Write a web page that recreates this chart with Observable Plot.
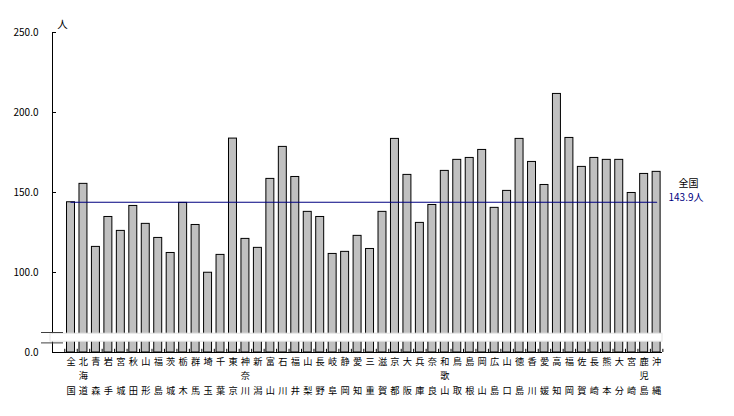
<!DOCTYPE html>
<html>
<head>
<meta charset="utf-8">
<script src="https://cdn.jsdelivr.net/npm/d3@7"></script>
<script src="https://cdn.jsdelivr.net/npm/@observablehq/plot@0.6"></script>
<style>
  body { margin: 0; background: #fff; }
</style>
</head>
<body>
<div id="chart"></div>
<script>
const categories = ["全国","北海道","青森","岩手","宮城","秋田","山形","福島","茨城","栃木","群馬","埼玉","千葉","東京","神奈川","新潟","富山","石川","福井","山梨","長野","岐阜","静岡","愛知","三重","滋賀","京都","大阪","兵庫","奈良","和歌山","鳥取","島根","岡山","広島","山口","徳島","香川","愛媛","高知","福岡","佐賀","長崎","熊本","大分","宮崎","鹿児島","沖縄"];
const values = [143.9,155.4,116.0,134.7,126.0,141.6,130.4,121.6,112.2,143.5,129.7,99.7,111.0,183.7,121.0,115.4,158.5,178.5,159.7,137.9,134.7,111.6,112.9,122.9,114.7,137.9,183.5,161.0,131.0,142.2,163.5,170.4,171.6,176.6,140.4,151.0,183.5,169.1,154.7,211.6,184.1,166.0,171.6,170.4,170.4,149.7,161.6,162.9];
const nationalValue = 143.9;
const nationalLabel = "全国";
const unitLabel = "人";
const yTicks = [0, 100, 150, 200, 250];
const breakRange = [13.5, 23.5];
const breakMarks = [12, 25];

const data = categories.map((name, i) => ({name, value: values[i]}));
const fmt = d3.format(".1f");
// broken axis: 0–100 compressed to half scale
const brokenAxis = v => (v >= 100 ? v : 50 + v / 2);

const chart = Plot.plot({
  width: 734,
  height: 416,
  marginLeft: 52,
  marginRight: 72,
  marginTop: 32,
  marginBottom: 64,
  style: {fontFamily: "'Noto Sans CJK JP', 'Liberation Sans', sans-serif", fontSize: "10px", color: "black"},
  x: {domain: categories, range: [64.27, 662.35], paddingInner: 0.36, paddingOuter: 0.18, round: false, axis: null},
  y: {transform: brokenAxis, domain: [50, 250], axis: null},
  marks: [
    Plot.frame({anchor: "left", stroke: "black"}),
    Plot.ruleY([100, 150, 200, 250], {stroke: "black", insetRight: 606}),
    Plot.text(yTicks, {y: d => d, text: d => fmt(d), frameAnchor: "left", dx: -14, textAnchor: "end", fontSize: 10}),
    Plot.barY(data, {x: "name", y: "value", fill: "#c0c0c0", stroke: "black", strokeWidth: 1}),
    Plot.rect([breakRange], {y1: d => d[0], y2: d => d[1], fill: "white", stroke: "#e4e4e4", insetLeft: -2}),
    Plot.ruleY(breakMarks, {stroke: "#404040", insetLeft: -11, insetRight: 599}),
    Plot.ruleY([0], {stroke: "black"}),
    Plot.ruleX(categories, {x: d => d, y1: 0, y2: 4, dx: 6.23, stroke: "black"}),
    Plot.ruleX([categories[0]], {x: d => d, y1: 0, y2: 4, dx: -6.23, stroke: "black"}),
    Plot.lineY([categories[0], categories[categories.length - 1]], {x: d => d, y: () => nationalValue, stroke: "#000080", strokeWidth: 1.2}),
    Plot.text(categories, {x: d => d, text: d => d[0], frameAnchor: "bottom", dy: 12.5, fontSize: 9.2}),
    Plot.text(categories, {x: d => d, text: d => d.length === 3 ? d[1] : "", frameAnchor: "bottom", dy: 26, fontSize: 9.2}),
    Plot.text(categories, {x: d => d, text: d => d[d.length - 1], frameAnchor: "bottom", dy: 41, fontSize: 9.2}),
    Plot.text([nationalValue], {y: d => d, text: () => nationalLabel, frameAnchor: "right", dx: 26, dy: -18.5, textAnchor: "middle", fill: "black", fontSize: 10}),
    Plot.text([nationalValue], {y: d => d, text: d => fmt(d) + unitLabel, frameAnchor: "right", dx: 6, dy: -4, textAnchor: "start", fill: "#000080", fontSize: 10}),
    Plot.text([unitLabel], {text: d => d, frameAnchor: "top-left", dx: 10, dy: -12, textAnchor: "middle", fontSize: 10.5})
  ]
});
document.getElementById("chart").appendChild(chart);
</script>
</body>
</html>
